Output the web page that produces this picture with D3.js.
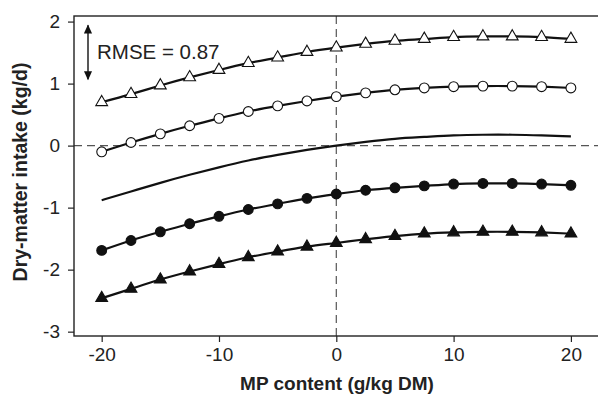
<!DOCTYPE html>
<html>
<head>
<meta charset="utf-8">
<script src="https://cdn.jsdelivr.net/npm/d3@7"></script>
<style>
  body { margin: 0; background: #fff; }
  svg { display: block; }
  text { font-family: "Liberation Sans", Arial, sans-serif; fill: #222; }
</style>
</head>
<body>
<script>
// MP content steps (g/kg DM)
let mp = [-20, -17.5, -15, -12.5, -10, -7.5, -5, -2.5, 0, 2.5, 5, 7.5, 10, 12.5, 15, 17.5, 20];

// Dry-matter intake (kg/d)
let openTri = [0.70, 0.83, 0.97, 1.10, 1.22, 1.33, 1.42, 1.51, 1.58, 1.64, 1.69, 1.72, 1.75, 1.76, 1.76, 1.75, 1.72];
let openCirc = [-0.10, 0.05, 0.19, 0.32, 0.44, 0.55, 0.64, 0.72, 0.79, 0.85, 0.90, 0.93, 0.95, 0.96, 0.96, 0.95, 0.93];
let middle = [-0.88, -0.74, -0.60, -0.47, -0.35, -0.24, -0.15, -0.07, 0.0, 0.06, 0.11, 0.14, 0.165, 0.175, 0.175, 0.165, 0.15];
let fillCirc = [-1.69, -1.53, -1.39, -1.26, -1.14, -1.03, -0.94, -0.85, -0.78, -0.72, -0.68, -0.65, -0.62, -0.61, -0.61, -0.62, -0.64];
let fillTri = [-2.46, -2.31, -2.16, -2.03, -1.91, -1.80, -1.71, -1.63, -1.57, -1.51, -1.46, -1.42, -1.40, -1.39, -1.39, -1.40, -1.42];

let xTicks = [-20, -10, 0, 10, 20];
let yTicks = [-3, -2, -1, 0, 1, 2];
let rmse = 0.87;
let rmseTop = 1.94;

let W = 598, H = 396;
let svg = d3.select("body").append("svg")
    .attr("width", W)
    .attr("height", H);

let x = d3.scaleLinear().domain([-22.36, 22.48]).range([74, 600]);
let y = d3.scaleLinear().domain([-3.07, 2.09]).range([336, 16]);

// reference lines
svg.append("line")
    .attr("x1", x(-22.36)).attr("x2", x(22.48))
    .attr("y1", y(0)).attr("y2", y(0))
    .attr("stroke", "#555").attr("stroke-width", 1.2)
    .attr("stroke-dasharray", "8,5");
svg.append("line")
    .attr("x1", x(0)).attr("x2", x(0))
    .attr("y1", y(2.09)).attr("y2", y(-3.07))
    .attr("stroke", "#555").attr("stroke-width", 1.2)
    .attr("stroke-dasharray", "8,5");

// frame (right side sits off the canvas)
svg.append("rect")
    .attr("x", 74).attr("y", 16)
    .attr("width", 530).attr("height", 320)
    .attr("fill", "none")
    .attr("stroke", "#222").attr("stroke-width", 1.4);

// axes
let xAxis = svg.append("g")
    .attr("transform", "translate(0,336)")
    .call(d3.axisBottom(x).tickValues(xTicks).tickSize(6).tickPadding(6).tickFormat(d => String(d)));
let yAxis = svg.append("g")
    .attr("transform", "translate(74,0)")
    .call(d3.axisLeft(y).tickValues(yTicks).tickSize(6).tickPadding(8).tickFormat(d => String(d)));

[xAxis, yAxis].forEach(g => {
    g.select(".domain").remove();
    g.selectAll(".tick line").attr("stroke", "#222").attr("stroke-width", 1.2);
    g.selectAll(".tick text")
        .attr("fill", "#222")
        .style("font-family", "'Liberation Sans', Arial, sans-serif")
        .style("font-size", "19px");
});

let lineGen = d3.line()
    .x((d, i) => x(mp[i]))
    .y(d => y(d))
    .curve(d3.curveNatural);

let series = [
    {vals: openTri, mark: "tri", fill: "#fff"},
    {vals: openCirc, mark: "circ", fill: "#fff"},
    {vals: middle, mark: null},
    {vals: fillCirc, mark: "circ", fill: "#111"},
    {vals: fillTri, mark: "tri", fill: "#111"}
];

series.forEach(s => {
    svg.append("path")
        .datum(s.vals)
        .attr("d", lineGen)
        .attr("fill", "none")
        .attr("stroke", "#111")
        .attr("stroke-width", 2.2);

    if (s.mark == "circ") {
        svg.selectAll(null)
            .data(s.vals)
            .enter()
            .append("circle")
            .attr("cx", (d, i) => x(mp[i]))
            .attr("cy", d => y(d))
            .attr("r", 4.9)
            .attr("fill", s.fill)
            .attr("stroke", "#111")
            .attr("stroke-width", 1.1);
    } else if (s.mark == "tri") {
        let sym = d3.symbol(d3.symbolTriangle, 60);
        svg.selectAll(null)
            .data(s.vals)
            .enter()
            .append("path")
            .attr("d", sym)
            .attr("transform", (d, i) => "translate(" + x(mp[i]) + "," + y(d) + ")")
            .attr("fill", s.fill)
            .attr("stroke", "#111")
            .attr("stroke-width", 1.1);
    }
});

// RMSE arrow
let defs = svg.append("defs");
defs.append("marker")
    .attr("id", "ah")
    .attr("viewBox", "0 0 10 10")
    .attr("refX", 9).attr("refY", 5)
    .attr("markerWidth", 10).attr("markerHeight", 9)
    .attr("markerUnits", "userSpaceOnUse")
    .attr("orient", "auto-start-reverse")
    .append("path")
    .attr("d", "M0,0.5 L10,5 L0,9.5 Z")
    .attr("fill", "#111");

svg.append("line")
    .attr("x1", 88).attr("x2", 88)
    .attr("y1", y(rmseTop)).attr("y2", y(rmseTop - rmse))
    .attr("stroke", "#111").attr("stroke-width", 1.4)
    .attr("marker-start", "url(#ah)")
    .attr("marker-end", "url(#ah)");

svg.append("text")
    .attr("x", 97)
    .attr("y", 59)
    .style("font-size", "20.5px")
    .text("RMSE = " + rmse.toFixed(2));

// axis titles
svg.append("text")
    .attr("x", 337)
    .attr("y", 390)
    .attr("text-anchor", "middle")
    .style("font-size", "19px")
    .style("font-weight", "bold")
    .text("MP content (g/kg DM)");

svg.append("text")
    .attr("transform", "translate(27,172) rotate(-90)")
    .attr("text-anchor", "middle")
    .style("font-size", "19.5px")
    .style("font-weight", "bold")
    .text("Dry-matter intake (kg/d)");
</script>
</body>
</html>
